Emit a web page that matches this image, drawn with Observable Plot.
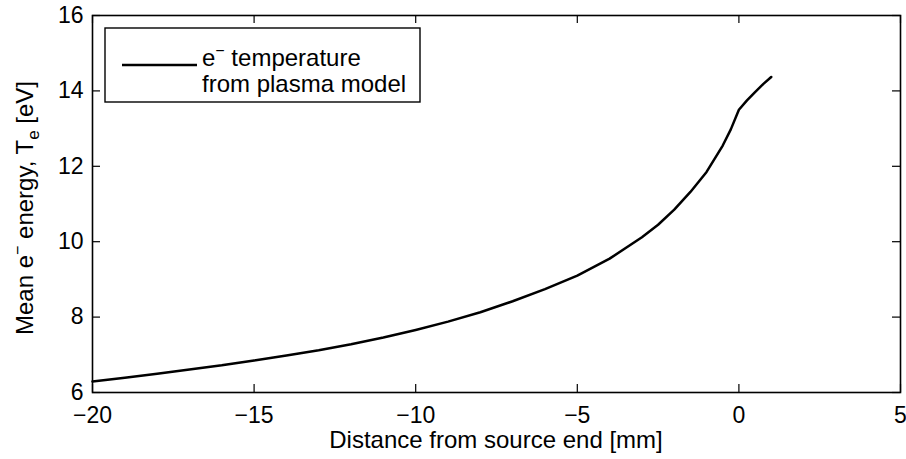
<!DOCTYPE html>
<html><head><meta charset="utf-8">
<script src="https://cdn.jsdelivr.net/npm/d3@7"></script>
<script src="https://cdn.jsdelivr.net/npm/@observablehq/plot@0.6"></script>
<style>body{margin:0;background:#fff} svg{display:block}</style>
</head><body><div id="chart"></div>
<script>
// Data
const distance = [-20, -19, -18, -17, -16, -15, -14, -13, -12, -11, -10, -9, -8, -7, -6, -5, -4, -3, -2.5, -2, -1.5, -1, -0.5, -0.25, 0, 0.25, 0.5, 0.75, 1];
const temperature = [6.29, 6.39, 6.50, 6.61, 6.72, 6.85, 6.98, 7.12, 7.28, 7.46, 7.66, 7.88, 8.13, 8.42, 8.74, 9.10, 9.55, 10.12, 10.45, 10.85, 11.32, 11.85, 12.55, 12.98, 13.50, 13.75, 13.97, 14.18, 14.37];
const xTicks = [-20, -15, -10, -5, 0, 5];
const yTicks = [6, 8, 10, 12, 14, 16];
const xLabel = "Distance from source end [mm]";
const legendLine1 = ["e", "−", " temperature"];
const legendLine2 = "from plasma model";

const data = distance.map((d, i) => ({x: d, y: temperature[i]}));
const W = 906, H = 459, mL = 92, mR = 6, mT = 15, mB = 67;
const ph = H - mT - mB, pw = W - mL - mR;
const font = "'Liberation Sans', Arial, Helvetica, sans-serif";
const tickLen = 8;
const fs = 23;
const lfs = 24;

const chart = Plot.plot({
  width: W, height: H, marginLeft: mL, marginRight: mR, marginTop: mT, marginBottom: mB,
  style: {fontFamily: font, fontSize: fs + "px", background: "#fff", color: "#000"},
  x: {domain: [-20, 5]},
  y: {domain: [6, 16]},
  marks: [
    Plot.axisX(xTicks, {tickSize: 0, tickPadding: 14, label: null, fontSize: fs}),
    Plot.axisY(yTicks, {tickSize: 0, tickPadding: 9, label: null, fontSize: fs}),
    Plot.tickX(xTicks, {x: d => d, insetTop: ph - tickLen, stroke: "#000", strokeWidth: 1.2}),
    Plot.tickX(xTicks, {x: d => d, insetBottom: ph - tickLen, stroke: "#000", strokeWidth: 1.2}),
    Plot.tickY(yTicks, {y: d => d, insetRight: pw - tickLen, stroke: "#000", strokeWidth: 1.2}),
    Plot.tickY(yTicks, {y: d => d, insetLeft: pw - tickLen, stroke: "#000", strokeWidth: 1.2}),
    Plot.line(data, {x: "x", y: "y", stroke: "#000", strokeWidth: 2.5}),
    Plot.frame({stroke: "#000", strokeWidth: 1.6})
  ]
});
document.getElementById("chart").appendChild(chart);

const svg = d3.select(chart);
const g = svg.append("g").attr("font-family", font).attr("fill", "#000");

// x label
g.append("text").attr("x", mL + pw / 2).attr("y", 448).attr("text-anchor", "middle")
  .attr("font-size", lfs).text(xLabel);

// y label: Mean e⁻ energy, Tₑ [eV]
const yl = g.append("text").attr("transform", `translate(33,208) rotate(-90)`)
  .attr("text-anchor", "middle").attr("font-size", lfs);
yl.append("tspan").text("Mean e");
yl.append("tspan").attr("font-size", 16).attr("dy", -10).text("−");
yl.append("tspan").attr("dy", 10).text(" energy, T");
yl.append("tspan").attr("font-size", 17).attr("dy", 6).text("e");
yl.append("tspan").attr("dy", -6).text(" [eV]");

// legend
const lg = svg.append("g").attr("text-anchor", "start");
lg.append("rect").attr("x", 105).attr("y", 28).attr("width", 315).attr("height", 74)
  .attr("fill", "#fff").attr("stroke", "#000").attr("stroke-width", 1.4);
lg.append("line").attr("x1", 122).attr("x2", 197).attr("y1", 65).attr("y2", 65)
  .attr("stroke", "#000").attr("stroke-width", 2.5);
const t1 = lg.append("text").attr("x", 202).attr("y", 66).attr("font-family", font)
  .attr("font-size", lfs).attr("text-anchor", "start");
t1.append("tspan").text(legendLine1[0]);
t1.append("tspan").attr("font-size", 16).attr("dy", -10).text(legendLine1[1]);
t1.append("tspan").attr("dy", 10).text(legendLine1[2]);
lg.append("text").attr("x", 202).attr("y", 92).attr("font-family", font)
  .attr("font-size", lfs).attr("text-anchor", "start").text(legendLine2);
</script>
</body></html>
